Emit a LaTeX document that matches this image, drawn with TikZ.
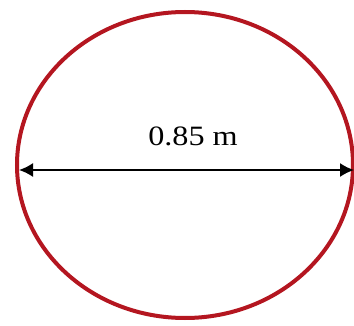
\documentclass[tikz,border=0pt]{standalone}
\usepackage{fontspec}
\setmainfont{Liberation Serif}
\usetikzlibrary{positioning}
\usetikzlibrary{calc}
\usetikzlibrary{arrows.meta}
\usetikzlibrary{shapes.geometric}
\definecolor{rimred}{RGB}{180,22,32}

\begin{document}
\begin{tikzpicture}[
    x=1pt, y=1pt,
    rim/.style={ellipse, draw=rimred, line width=4pt, minimum width=336pt, minimum height=306pt, inner sep=0pt},
    dim/.style={line width=1.8pt, {Latex[length=14pt,width=14pt]}-{Latex[length=14pt,width=14pt]}},
    label/.style={font=\fontsize{28}{28}\selectfont, xscale=1.15, transform shape}
]
    \useasboundingbox (0,0) rectangle (354,325);

    \node[rim] (wheel) at (185, 160) {};

    \coordinate (left) at (19, 155);
    \coordinate (right) at (354, 155);
    \draw[dim] (left) -- (right);

    \node[label] (size) at (193, 189) {0.85 m};
\end{tikzpicture}
\end{document}
